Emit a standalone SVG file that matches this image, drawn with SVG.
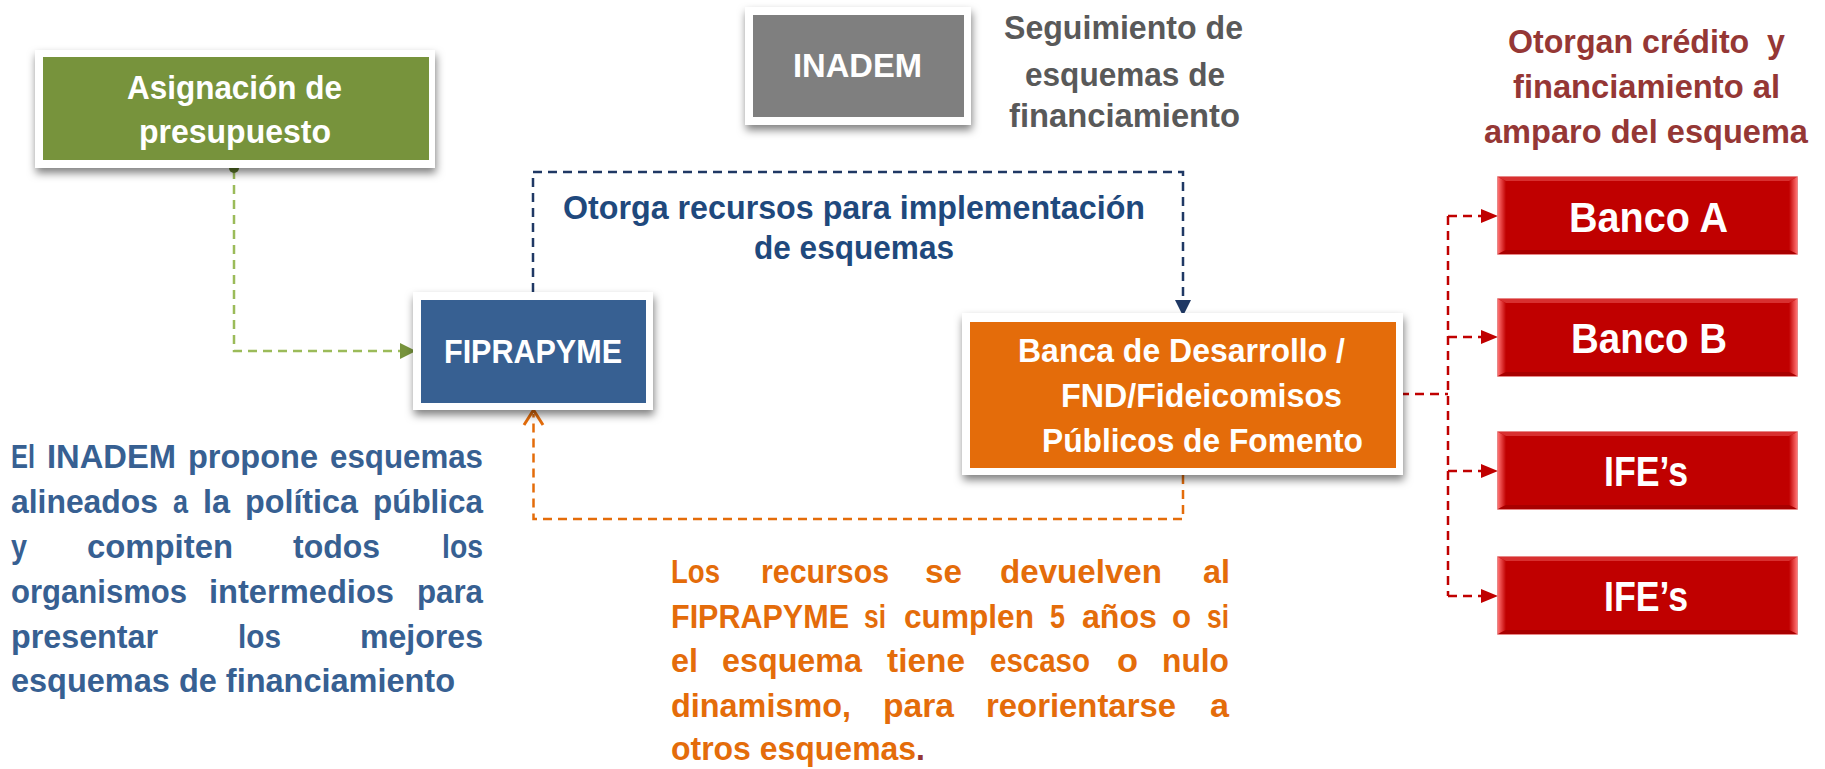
<svg xmlns="http://www.w3.org/2000/svg" xmlns:xlink="http://www.w3.org/1999/xlink" width="1825" height="769" viewBox="0 0 1825 769">
<style>
.t{font-family:"Liberation Sans",Arial,sans-serif;font-weight:bold;font-size:33.5px}
.big{font-size:43px}
.w{fill:#ffffff}
.g{fill:#595959}
.nv{fill:#1F497D}
.bl{fill:#376092}
.or{fill:#E46C0A}
.rd{fill:#953735}
.frame{fill:#ffffff;filter:url(#sh)}
.dash{fill:none;stroke-width:2.5;stroke-dasharray:9 6}
</style>
<defs>
<filter id="sh" x="-10%" y="-15%" width="125%" height="145%">
<feDropShadow dx="1" dy="5" stdDeviation="4" flood-color="#000000" flood-opacity="0.5"/>
</filter>
<linearGradient id="bevL" x1="0" y1="0" x2="1" y2="0">
<stop offset="0" stop-color="#FF7070"/>
<stop offset="1" stop-color="#C00000"/>
</linearGradient>
<linearGradient id="bevR" x1="0" y1="0" x2="1" y2="0">
<stop offset="0" stop-color="#C00000"/>
<stop offset="1" stop-color="#FF7070"/>
</linearGradient>
<g id="redbox">
<rect x="0" y="0" width="299" height="77" fill="#C00000" stroke="#E06060" stroke-width="1.5"/>
<polygon points="0,0 8,4 8,73 0,77" fill="url(#bevL)"/>
<polygon points="299,0 291,4 291,73 299,77" fill="url(#bevR)"/>
<polygon points="0,0 299,0 291,4 8,4" fill="#D83030"/>
<polygon points="0,77 299,77 291,73 8,73" fill="#A80000"/>
</g>
</defs>
<rect x="0" y="0" width="1825" height="769" fill="#ffffff"/>

<g id="connectors">
<path class="dash" d="M234,170 V351 H401" stroke="#9BBB59" stroke-width="3"/>
<circle cx="234" cy="168" r="5" fill="#5E7A2A"/>
<polygon points="400,343 416,351 400,359" fill="#77933C"/>
<path class="dash" d="M533,292 V172 H1183 V302" stroke="#1F3864"/>
<polygon points="1175,300 1191,300 1183,316" fill="#1F3864"/>
<path class="dash" d="M1183,475 V519 H533.5 V414" stroke="#E46C0A"/>
<polyline points="524,425 533.5,410 543,425" fill="none" stroke="#E46C0A" stroke-width="3"/>
<path class="dash" d="M1400,394 H1448 M1448,216 V596 M1448,216 H1484 M1448,337 H1484 M1448,471 H1484 M1448,596 H1484" stroke="#C00000"/>
<polygon points="1481,209 1498,216 1481,223" fill="#C00000"/>
<polygon points="1481,330 1498,337 1481,344" fill="#C00000"/>
<polygon points="1481,464 1498,471 1481,478" fill="#C00000"/>
<polygon points="1481,589 1498,596 1481,603" fill="#C00000"/>
</g>

<g id="asignacion">
<rect class="frame" x="35" y="50" width="400" height="118"/>
<rect x="43" y="57" width="386" height="103" fill="#77933C"/>
<text class="t w" x="127" y="99" textLength="215" lengthAdjust="spacingAndGlyphs">Asignación de</text>
<text class="t w" x="139" y="143" textLength="192" lengthAdjust="spacingAndGlyphs">presupuesto</text>
</g>

<g id="inadem">
<rect class="frame" x="745" y="7" width="226" height="118"/>
<rect x="753" y="15" width="211" height="102" fill="#7F7F7F"/>
<text class="t w" x="793" y="77" textLength="129" lengthAdjust="spacingAndGlyphs">INADEM</text>
</g>

<g id="seguimiento">
<text class="t g" x="1004" y="39" textLength="239" lengthAdjust="spacingAndGlyphs">Seguimiento de</text>
<text class="t g" x="1025" y="86" textLength="200" lengthAdjust="spacingAndGlyphs">esquemas de</text>
<text class="t g" x="1009" y="127" textLength="231" lengthAdjust="spacingAndGlyphs">financiamiento</text>
</g>

<g id="otorga-label">
<text class="t nv" x="563" y="219" textLength="582" lengthAdjust="spacingAndGlyphs">Otorga recursos para implementación</text>
<text class="t nv" x="754" y="259" textLength="200" lengthAdjust="spacingAndGlyphs">de esquemas</text>
</g>

<g id="fiprapyme">
<rect class="frame" x="413" y="292" width="240" height="118"/>
<rect x="421" y="300" width="225" height="103" fill="#376092"/>
<text class="t w" x="444" y="363" textLength="178" lengthAdjust="spacingAndGlyphs">FIPRAPYME</text>
</g>

<g id="banca">
<rect class="frame" x="962" y="313" width="441" height="162"/>
<rect x="970" y="322" width="426" height="146" fill="#E46C0A"/>
<text class="t w" x="1018" y="362" textLength="327" lengthAdjust="spacingAndGlyphs">Banca de Desarrollo /</text>
<text class="t w" x="1061" y="407" textLength="281" lengthAdjust="spacingAndGlyphs">FND/Fideicomisos</text>
<text class="t w" x="1042" y="452" textLength="321" lengthAdjust="spacingAndGlyphs">Públicos de Fomento</text>
</g>

<g id="otorgan-heading">
<text class="t rd" x="1508" y="53" textLength="277" lengthAdjust="spacingAndGlyphs" xml:space="preserve">Otorgan crédito  y</text>
<text class="t rd" x="1513" y="98" textLength="267" lengthAdjust="spacingAndGlyphs">financiamiento al</text>
<text class="t rd" x="1484" y="143" textLength="324" lengthAdjust="spacingAndGlyphs">amparo del esquema</text>
</g>

<g id="banco-a">
<use xlink:href="#redbox" x="1498" y="177"/>
<text class="t big w" x="1569" y="232" textLength="159" lengthAdjust="spacingAndGlyphs">Banco A</text>
</g>
<g id="banco-b">
<use xlink:href="#redbox" x="1498" y="299"/>
<text class="t big w" x="1571" y="353" textLength="156" lengthAdjust="spacingAndGlyphs">Banco B</text>
</g>
<g id="ife-1">
<use xlink:href="#redbox" x="1498" y="432"/>
<text class="t big w" x="1604" y="486" textLength="84" lengthAdjust="spacingAndGlyphs">IFE’s</text>
</g>
<g id="ife-2">
<use xlink:href="#redbox" x="1498" y="557"/>
<text class="t big w" x="1604" y="611" textLength="84" lengthAdjust="spacingAndGlyphs">IFE’s</text>
</g>

<g id="inadem-propone">
<text class="t bl" x="11" y="468" textLength="24" lengthAdjust="spacingAndGlyphs">El</text>
<text class="t bl" x="47" y="468" textLength="129" lengthAdjust="spacingAndGlyphs">INADEM</text>
<text class="t bl" x="188" y="468" textLength="130" lengthAdjust="spacingAndGlyphs">propone</text>
<text class="t bl" x="330" y="468" textLength="153" lengthAdjust="spacingAndGlyphs">esquemas</text>
<text class="t bl" x="11" y="513" textLength="147" lengthAdjust="spacingAndGlyphs">alineados</text>
<text class="t bl" x="173" y="513" textLength="15" lengthAdjust="spacingAndGlyphs">a</text>
<text class="t bl" x="203" y="513" textLength="27" lengthAdjust="spacingAndGlyphs">la</text>
<text class="t bl" x="245" y="513" textLength="113" lengthAdjust="spacingAndGlyphs">política</text>
<text class="t bl" x="373" y="513" textLength="110" lengthAdjust="spacingAndGlyphs">pública</text>
<text class="t bl" x="11" y="558" textLength="16" lengthAdjust="spacingAndGlyphs">y</text>
<text class="t bl" x="87" y="558" textLength="146" lengthAdjust="spacingAndGlyphs">compiten</text>
<text class="t bl" x="293" y="558" textLength="87" lengthAdjust="spacingAndGlyphs">todos</text>
<text class="t bl" x="442" y="558" textLength="41" lengthAdjust="spacingAndGlyphs">los</text>
<text class="t bl" x="11" y="603" textLength="176" lengthAdjust="spacingAndGlyphs">organismos</text>
<text class="t bl" x="209" y="603" textLength="185" lengthAdjust="spacingAndGlyphs">intermedios</text>
<text class="t bl" x="417" y="603" textLength="66" lengthAdjust="spacingAndGlyphs">para</text>
<text class="t bl" x="11" y="648" textLength="147" lengthAdjust="spacingAndGlyphs">presentar</text>
<text class="t bl" x="238" y="648" textLength="43" lengthAdjust="spacingAndGlyphs">los</text>
<text class="t bl" x="360" y="648" textLength="123" lengthAdjust="spacingAndGlyphs">mejores</text>
<text class="t bl" x="11" y="692" textLength="444" lengthAdjust="spacingAndGlyphs">esquemas de financiamiento</text>
</g>

<g id="recursos-devuelven">
<text class="t or" x="671" y="583" textLength="49" lengthAdjust="spacingAndGlyphs">Los</text>
<text class="t or" x="761" y="583" textLength="128" lengthAdjust="spacingAndGlyphs">recursos</text>
<text class="t or" x="925" y="583" textLength="37" lengthAdjust="spacingAndGlyphs">se</text>
<text class="t or" x="1000" y="583" textLength="162" lengthAdjust="spacingAndGlyphs">devuelven</text>
<text class="t or" x="1203" y="583" textLength="27" lengthAdjust="spacingAndGlyphs">al</text>
<text class="t or" x="671" y="628" textLength="178" lengthAdjust="spacingAndGlyphs">FIPRAPYME</text>
<text class="t or" x="864" y="628" textLength="22" lengthAdjust="spacingAndGlyphs">si</text>
<text class="t or" x="904" y="628" textLength="130" lengthAdjust="spacingAndGlyphs">cumplen</text>
<text class="t or" x="1050" y="628" textLength="15" lengthAdjust="spacingAndGlyphs">5</text>
<text class="t or" x="1082" y="628" textLength="75" lengthAdjust="spacingAndGlyphs">años</text>
<text class="t or" x="1172" y="628" textLength="19" lengthAdjust="spacingAndGlyphs">o</text>
<text class="t or" x="1207" y="628" textLength="22" lengthAdjust="spacingAndGlyphs">si</text>
<text class="t or" x="671" y="672" textLength="27" lengthAdjust="spacingAndGlyphs">el</text>
<text class="t or" x="722" y="672" textLength="140" lengthAdjust="spacingAndGlyphs">esquema</text>
<text class="t or" x="887" y="672" textLength="78" lengthAdjust="spacingAndGlyphs">tiene</text>
<text class="t or" x="990" y="672" textLength="100" lengthAdjust="spacingAndGlyphs">escaso</text>
<text class="t or" x="1117" y="672" textLength="21" lengthAdjust="spacingAndGlyphs">o</text>
<text class="t or" x="1162" y="672" textLength="67" lengthAdjust="spacingAndGlyphs">nulo</text>
<text class="t or" x="671" y="717" textLength="180" lengthAdjust="spacingAndGlyphs">dinamismo,</text>
<text class="t or" x="883" y="717" textLength="71" lengthAdjust="spacingAndGlyphs">para</text>
<text class="t or" x="986" y="717" textLength="190" lengthAdjust="spacingAndGlyphs">reorientarse</text>
<text class="t or" x="1210" y="717" textLength="19" lengthAdjust="spacingAndGlyphs">a</text>
<text class="t or" x="671" y="760" textLength="254" lengthAdjust="spacingAndGlyphs">otros esquemas<tspan class="rd">.</tspan></text>
</g>
</svg>
